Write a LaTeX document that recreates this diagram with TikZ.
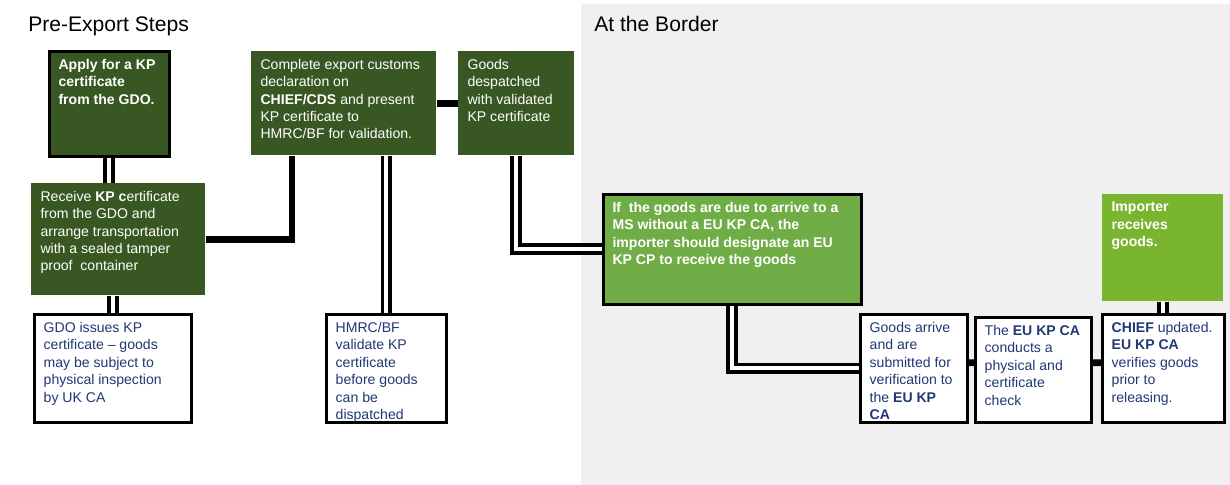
\documentclass[tikz,border=0pt]{standalone}
\usepackage{fontspec}
\setmainfont{Liberation Sans}
\usetikzlibrary{calc}
\definecolor{kpdark}{RGB}{56,87,35}
\definecolor{kpgreen}{RGB}{112,173,71}
\definecolor{kplime}{RGB}{122,181,48}
\definecolor{kpnavy}{RGB}{32,56,116}
\definecolor{borderbg}{RGB}{240,240,240}
\newlength{\pxu}\setlength{\pxu}{0.025cm}
% box text: width, height (in px), then the lines
\newcommand{\boxtext}[3]{\parbox[c][\dimexpr#2\pxu-11pt\relax][t]{#1\pxu}{\raggedright\leftskip=6.6pt\relax #3}}

\begin{document}
\begin{tikzpicture}[x=0.025cm,y=-0.025cm,
  every node/.style={font=\fontsize{10}{12.4}\selectfont},
  title/.style={anchor=base west,inner sep=0pt,font=\fontsize{15}{18}\selectfont},
  stepbox/.style={anchor=north west,inner xsep=0pt,inner ysep=5.5pt,text=white},
  darkbox/.style={stepbox,fill=kpdark},
  infobox/.style={stepbox,fill=white,draw=black,line width=2pt,text=kpnavy},
  dbl/.style={double,line width=2.8pt,double distance=2.8pt},
  thk/.style={line width=4.7pt}]
  \useasboundingbox (0,0) rectangle (1230,485);
  % Border area
  \fill[borderbg] (581,4) rectangle (1230,485);
  \node[title] (pre) at (28,32) {Pre-Export Steps};
  \node[title] (atborder) at (594,32) {At the Border};
  % Pre-export steps
  \node[darkbox,draw=black,line width=1.8pt] (apply) at (48,50)
    {\boxtext{120}{105}{\bfseries Apply for a KP\\certificate\\from the GDO.}};
  \node[darkbox] (receive) at (31,183)
    {\boxtext{174}{112}{Receive \textbf{KP c}ertificate\\from the GDO and\\arrange transportation\\with a sealed tamper\\proof~ container}};
  \node[darkbox] (declare) at (251,51)
    {\boxtext{185}{104}{Complete export customs\\declaration on\\\textbf{CHIEF/CDS} and present\\KP certificate to\\HMRC/BF for validation.}};
  \node[darkbox] (despatch) at (458,51)
    {\boxtext{116}{104}{Goods\\despatched\\with validated\\KP certificate}};
  \node[infobox] (issue) at (33,313)
    {\boxtext{157}{108}{GDO issues KP\\certificate -- goods\\may be subject to\\physical inspection\\by UK CA}};
  \node[infobox] (validate) at (325,313)
    {\boxtext{120}{108}{HMRC/BF\\validate KP\\certificate\\before goods\\can be\\dispatched}};
  % At the border
  \node[stepbox,fill=kpgreen,draw=black,line width=1.8pt] (designate) at (602,193)
    {\boxtext{258}{110}{\bfseries If~ the goods are due to arrive to a\\MS without a EU KP CA, the\\importer should designate an EU\\KP CP to receive the goods}};
  \node[stepbox,fill=kplime] (receives) at (1102,194)
    {\boxtext{121}{107}{\bfseries Importer\\receives\\goods.}};
  \node[infobox] (arrive) at (859,313)
    {\boxtext{107}{108}{Goods arrive\\and are\\submitted for\\verification to\\the \textbf{EU KP}\\\textbf{CA}}};
  \node[infobox] (check) at (974,316)
    {\boxtext{116}{105}{The \textbf{EU KP CA}\\conducts a\\physical and\\certificate\\check}};
  \node[infobox] (release) at (1101,313)
    {\boxtext{122}{108}{\textbf{CHIEF} updated.\\\textbf{EU KP CA}\\verifies goods\\prior to\\releasing.}};
  % Connectors
  \draw[dbl] (apply.south) -- (apply.south |- receive.north);
  \draw[dbl] (issue.north |- receive.south) -- (issue.north);
  \draw[thk] (receive.east) -| ($(declare.south west)+(41,0)$);
  \draw[thk] (declare.east) -- (despatch.west);
  \draw[dbl] (validate.north |- declare.south) -- (validate.north);
  \draw[dbl] (despatch.south) |- (designate.west);
  \draw[dbl] (designate.south) |- (arrive.west);
  \draw[thk] ([yshift=0.14cm]arrive.east) -- ([yshift=0.18cm]check.west);
  \draw[thk] ([yshift=0.18cm]check.east) -- ([yshift=0.14cm]release.west);
  \draw[dbl] (receives.south) -- (receives.south |- release.north);
\end{tikzpicture}
\end{document}
